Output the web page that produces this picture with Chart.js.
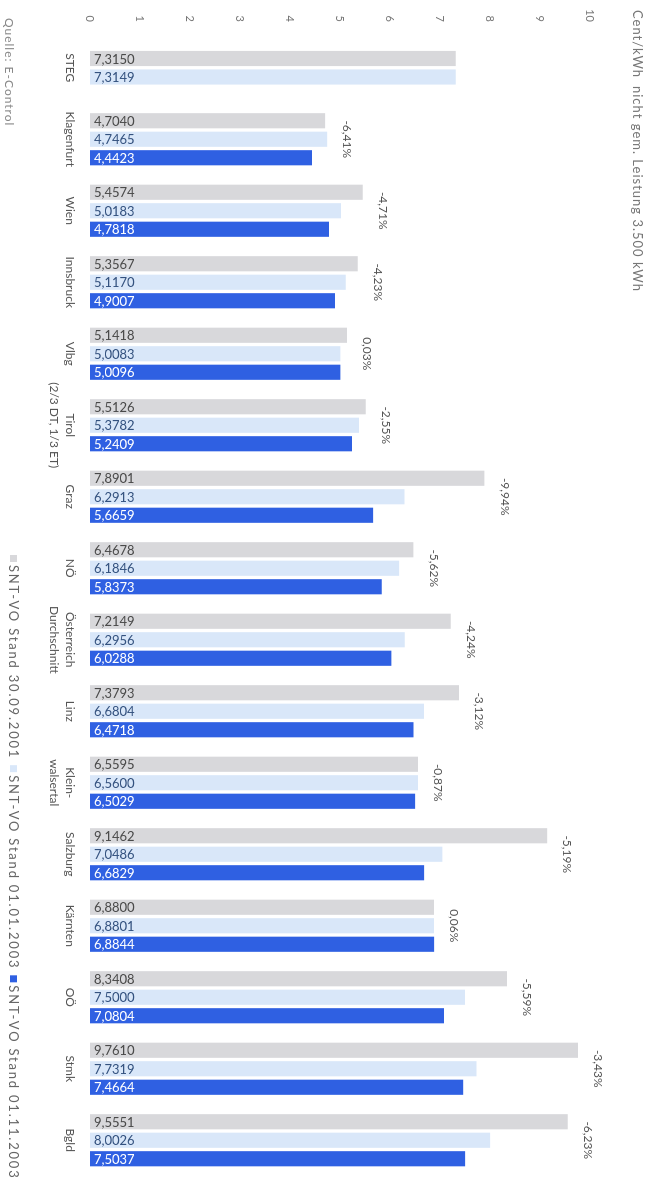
<!DOCTYPE html>
<html lang="de">
<head>
<meta charset="utf-8">
<title>Strompreise SNT-VO</title>
<script src="https://cdn.jsdelivr.net/npm/chart.js@4.4.1/dist/chart.umd.min.js"></script>
<style>
    html, body { margin: 0; padding: 0; background: #fff; }
    body { width: 657px; height: 1186px; overflow: hidden; position: relative; }
    /* Grafik liegt quer, wie in der Vorlage */
    .quer {
        position: absolute; left: 0; top: 0;
        width: 1186px; height: 657px;
        transform-origin: 0 0;
        transform: translate(657px, 0) rotate(90deg);
    }
</style>
</head>
<body>
<div class="quer"><canvas id="preisChart" width="1186" height="657"></canvas></div>
<script>
'use strict';

const kategorien = ['STEG', 'Klagenfurt', 'Wien', 'Innsbruck', 'Vlbg', ['Tirol', '(2/3 DT, 1/3 ET)'],
    'Graz', 'NÖ', ['Österreich', 'Durchschnitt'], 'Linz', ['Klein-', 'walsertal'],
    'Salzburg', 'Kärnten', 'OÖ', 'Stmk', 'Bgld'];

const stand2001 = [7.3150, 4.7040, 5.4574, 5.3567, 5.1418, 5.5126, 7.8901, 6.4678,
    7.2149, 7.3793, 6.5595, 9.1462, 6.8800, 8.3408, 9.7610, 9.5551];
const stand2003Jan = [7.3149, 4.7465, 5.0183, 5.1170, 5.0083, 5.3782, 6.2913, 6.1846,
    6.2956, 6.6804, 6.5600, 7.0486, 6.8801, 7.5000, 7.7319, 8.0026];
const stand2003Nov = [null, 4.4423, 4.7818, 4.9007, 5.0096, 5.2409, 5.6659, 5.8373,
    6.0288, 6.4718, 6.5029, 6.6829, 6.8844, 7.0804, 7.4664, 7.5037];
const aenderung = [null, -6.41, -4.71, -4.23, 0.03, -2.55, -9.94, -5.62,
    -4.24, -3.12, -0.87, -5.19, 0.06, -5.59, -3.43, -6.23];

const achseMin = 0;
const achseMax = 10;
const legendeTexte = ['SNT-VO Stand 30.09.2001', 'SNT-VO Stand 01.01.2003', 'SNT-VO Stand 01.11.2003'];

const farbeGrau = '#d8d8db';
const farbeHell = '#d9e7f9';
const farbeBlau = '#2f60e2';
const textFarben = ['#4a4a4a', '#34527f', '#ffffff'];
const schrift = 'Lato, "Open Sans", sans-serif';

function zahl(v, stellen) {
    return v.toFixed(stellen).replace('.', ',');
}

/*beschriftungen*/
const beschriftung = {
    id: 'beschriftung',
    afterDatasetsDraw(chart) {
        const ctx = chart.ctx;
        const xs = chart.scales.x;
        const ys = chart.scales.y;

        // Werte in den Balken
        chart.data.datasets.forEach(function(ds, i) {
            const meta = chart.getDatasetMeta(i);
            meta.data.forEach(function(bar, j) {
                const v = ds.data[j];
                if (v === null || v === undefined) return;
                ctx.save();
                ctx.translate(bar.x, bar.base - 4);
                ctx.rotate(-Math.PI / 2);
                ctx.font = '13px ' + schrift;
                ctx.fillStyle = textFarben[i];
                ctx.textAlign = 'left';
                ctx.textBaseline = 'middle';
                ctx.fillText(zahl(v, 4), 0, 1);
                ctx.restore();
            });
        });

        // Prozent-Veränderung
        ctx.save();
        ctx.font = '12px ' + schrift;
        ctx.fillStyle = '#555';
        ctx.textAlign = 'center';
        ctx.textBaseline = 'bottom';
        aenderung.forEach(function(p, j) {
            if (p === null) return;
            const hoechst = Math.max(stand2001[j], stand2003Jan[j], stand2003Nov[j]);
            ctx.fillText(zahl(p, 2) + '%', xs.getPixelForValue(j), ys.getPixelForValue(hoechst) - 14);
        });
        ctx.restore();
    },
    afterDraw(chart) {
        const ctx = chart.ctx;
        ctx.save();
        ctx.textBaseline = 'middle';
        ctx.textAlign = 'left';

        ctx.font = '13px ' + schrift;
        ctx.letterSpacing = '1px';
        ctx.fillStyle = '#777';
        ctx.fillText('Cent/kWh', 10, 20);
        ctx.fillText('nicht gem. Leistung 3.500 kWh', 86, 20);

        ctx.font = '12px ' + schrift;
        ctx.fillStyle = '#888';
        ctx.fillText('Quelle: E-Control', 18, 648);

        // Legende
        const farben = [farbeGrau, farbeHell, farbeBlau];
        let x = 555;
        ctx.font = '13px ' + schrift;
        ctx.letterSpacing = '1.8px';
        legendeTexte.forEach(function(t, i) {
            ctx.fillStyle = farben[i];
            ctx.fillRect(x, 640, 7, 7);
            ctx.fillStyle = '#666';
            ctx.fillText(t, x + 10, 644);
            x += 10 + ctx.measureText(t).width + 6;
        });
        ctx.restore();
    }
};

const balken = {
    barThickness: 18.5,
    borderWidth: { left: 2, right: 2, top: 0, bottom: 0 },
    borderColor: '#ffffff',
    borderSkipped: false
};

new Chart(document.getElementById('preisChart').getContext('2d'), {
    type: 'bar',
    data: {
        labels: kategorien,
        datasets: [
            Object.assign({ label: legendeTexte[0], data: stand2001, backgroundColor: farbeGrau }, balken),
            Object.assign({ label: legendeTexte[1], data: stand2003Jan, backgroundColor: farbeHell }, balken),
            Object.assign({ label: legendeTexte[2], data: stand2003Nov, backgroundColor: farbeBlau }, balken)
        ]
    },
    options: {
        responsive: false,
        animation: false,
        events: [],
        skipNull: true,
        layout: { padding: { top: 67, right: 10, bottom: 0, left: 0 } },
        plugins: {
            legend: { display: false },
            tooltip: { enabled: false }
        },
        scales: {
            x: {
                grid: { display: false, drawTicks: false },
                border: { display: false },
                ticks: {
                    autoSkip: false,
                    maxRotation: 0,
                    padding: 12,
                    color: '#555',
                    font: { family: schrift, size: 12, lineHeight: 1.35 }
                },
                afterFit: function(s) { s.height = 90; }
            },
            y: {
                min: achseMin,
                max: achseMax,
                grid: { display: false, drawTicks: false },
                border: { display: false },
                ticks: {
                    stepSize: 1,
                    padding: 10,
                    color: '#777',
                    font: { family: schrift, size: 11 }
                },
                afterFit: function(s) { s.width = 32; }
            }
        }
    },
    plugins: [beschriftung]
});
</script>
</body>
</html>
